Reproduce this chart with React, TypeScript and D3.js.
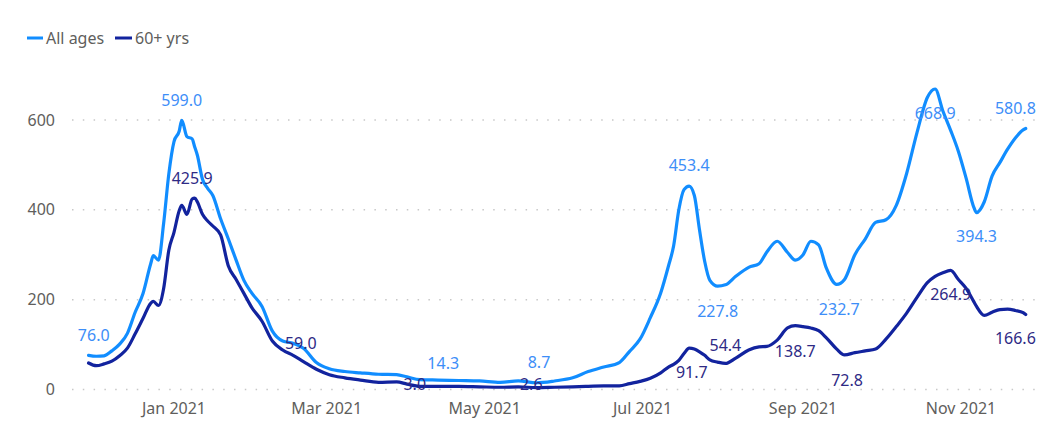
import * as d3 from 'd3'

// daily rate
const dates = [
  '2020-11-29', '2020-12-02', '2020-12-05', '2020-12-08', '2020-12-11', '2020-12-14', '2020-12-17',
  '2020-12-20', '2020-12-23', '2020-12-24', '2020-12-26', '2020-12-28', '2020-12-30', '2021-01-01',
  '2021-01-03', '2021-01-04', '2021-01-06', '2021-01-08', '2021-01-09', '2021-01-10', '2021-01-12',
  '2021-01-14', '2021-01-16', '2021-01-19', '2021-01-22', '2021-01-25', '2021-01-28', '2021-01-31',
  '2021-02-04', '2021-02-08', '2021-02-12', '2021-02-16', '2021-02-20', '2021-02-25', '2021-03-02',
  '2021-03-08', '2021-03-14', '2021-03-21', '2021-03-28', '2021-04-01', '2021-04-06', '2021-04-13',
  '2021-04-21', '2021-04-29', '2021-05-07', '2021-05-14', '2021-05-21', '2021-05-28', '2021-06-04',
  '2021-06-10', '2021-06-16', '2021-06-22', '2021-06-26', '2021-06-30', '2021-07-04', '2021-07-08',
  '2021-07-11', '2021-07-13', '2021-07-15', '2021-07-17', '2021-07-19', '2021-07-21', '2021-07-23',
  '2021-07-25', '2021-07-27', '2021-07-30', '2021-08-02', '2021-08-06', '2021-08-11', '2021-08-15',
  '2021-08-18', '2021-08-22', '2021-08-26', '2021-08-29', '2021-09-01', '2021-09-04', '2021-09-07',
  '2021-09-10', '2021-09-14', '2021-09-17', '2021-09-21', '2021-09-25', '2021-09-29', '2021-10-03',
  '2021-10-07', '2021-10-11', '2021-10-15', '2021-10-19', '2021-10-22', '2021-10-25', '2021-10-28',
  '2021-10-31', '2021-11-03', '2021-11-06', '2021-11-07', '2021-11-10', '2021-11-13', '2021-11-16',
  '2021-11-19', '2021-11-22', '2021-11-25', '2021-11-26',
]

const allAges = [
  76, 74, 75, 86, 101, 125, 172,
  213, 280, 298, 288, 370, 480, 552,
  575, 599, 563, 558, 540, 522, 468,
  448, 432, 380, 335, 288, 243, 215,
  185, 130, 108, 103, 92, 60, 46,
  40, 37, 34, 33, 28, 22, 21,
  20, 19, 16, 19, 15, 19, 26,
  40, 50, 60, 85, 112, 160, 215,
  275, 320, 400, 445, 453, 432, 355,
  285, 243, 230, 233, 252, 272, 280,
  306, 330, 305, 288, 300, 330, 322,
  270, 234, 245, 300, 335, 372, 378,
  410, 481, 572, 650, 669, 620, 577,
  530, 470, 405, 394, 418, 475, 505,
  535, 560, 578, 581,
]

const over60 = [
  59, 53, 57, 63, 75, 92, 124,
  158, 192, 196, 187, 225, 310, 350,
  398, 410, 390, 424, 426, 418, 390,
  375, 364, 344, 275, 245, 214, 183,
  152, 108, 88, 76, 62, 45, 33,
  26, 21, 16, 17, 12, 7, 7,
  7, 6, 5, 6, 4, 5, 6,
  7, 8, 8, 13, 18, 25, 37,
  50, 56, 65, 80, 92, 90, 84,
  76, 66, 61, 58, 70, 88, 95,
  96, 110, 137, 142, 140, 137, 131,
  115, 90, 77, 82, 86, 90, 112,
  140, 170, 205, 238, 252, 260, 265,
  245, 225, 195, 185, 165, 172, 178,
  179, 176, 171, 167,
]

const seriesNames = ['All ages', '60+ yrs']
const yTicks = [0, 200, 400, 600]
const monthTicks = ['2021-01-01', '2021-03-01', '2021-05-01', '2021-07-01', '2021-09-01', '2021-11-01']

// data labels shown on the chart
const labelDates = [
  '2020-12-01', '2021-01-04', '2021-01-08', '2021-02-19', '2021-04-15', '2021-04-04', '2021-05-22',
  '2021-05-19', '2021-07-19', '2021-07-30', '2021-07-20', '2021-08-02', '2021-08-29', '2021-09-15',
  '2021-09-18', '2021-10-28', '2021-11-07', '2021-10-22', '2021-11-22', '2021-11-22',
]
const labelValues = [
  76.0, 599.0, 425.9, 59.0, 14.3, 3.0, 8.7,
  2.6, 453.4, 227.8, 91.7, 54.4, 138.7, 232.7,
  72.8, 264.9, 394.3, 668.9, 580.8, 166.6,
]
const labelSeries = [0, 0, 1, 1, 0, 1, 0, 1, 0, 0, 1, 1, 1, 0, 1, 1, 0, 0, 0, 1]

const W = 1051
const H = 426
const colors = ['#118DFF', '#12239E']
const labelColors = ['#3d8ef8', '#2e2a85']
const font = "'Noto Sans', 'DejaVu Sans', sans-serif"

export default function App() {
  const parse = d3.timeParse('%Y-%m-%d')
  const x = d3
    .scaleTime()
    .domain([parse('2021-01-01'), parse('2021-11-01')])
    .range([174, 961])
  const y = d3.scaleLinear().domain([0, 600]).range([389.5, 120])

  const series = [allAges, over60].map((vals) =>
    dates.map((d, i) => ({ date: parse(d), value: vals[i] }))
  )
  const line = d3
    .line()
    .x((d) => x(d.date))
    .y((d) => y(d.value))
    .curve(d3.curveMonotoneX)

  // where each label sits relative to its point
  const placement = [
    'above', 'above', 'above', 'above', 'above', 'on', 'high',
    'on', 'above', 'below', 'below', 'above', 'below', 'below',
    'below', 'below', 'below', 'below', 'above', 'below',
  ]
  const offset = { above: -20, high: -23, below: 24, on: -4 }
  const fmtMonth = d3.timeFormat('%b %Y')

  return (
    <svg
      width={W}
      height={H}
      style={{ position: 'absolute', left: 0, top: 0, background: '#fff' }}
      fontFamily={font}
    >
      {/* legend */}
      <g>
        <line x1={27} x2={43} y1={38} y2={38} stroke={colors[0]} strokeWidth={3} />
        <text x={46} y={38} dy="0.35em" fontSize={16} fill="#605E5C">{seriesNames[0]}</text>
        <line x1={115} x2={132} y1={38} y2={38} stroke={colors[1]} strokeWidth={3} />
        <text x={135} y={38} dy="0.35em" fontSize={16} fill="#605E5C">{seriesNames[1]}</text>
      </g>

      {/* y grid + labels */}
      {yTicks.map((t) => (
        <g key={t}>
          <line
            x1={72}
            x2={1038}
            y1={y(t)}
            y2={y(t)}
            stroke="#c8c8c8"
            strokeWidth={1.5}
            strokeDasharray="1.5,9.3"
          />
          <text x={55} y={y(t)} dy="0.35em" textAnchor="end" fontSize={16} fill="#605E5C">
            {t}
          </text>
        </g>
      ))}

      {/* x labels */}
      {monthTicks.map((m) => (
        <text key={m} x={x(parse(m))} y={408} dy="0.35em" textAnchor="middle" fontSize={16} fill="#605E5C">
          {fmtMonth(parse(m))}
        </text>
      ))}

      {series.map((s, i) => (
        <path
          key={i}
          d={line(s)}
          fill="none"
          stroke={colors[i]}
          strokeWidth={3.2}
          strokeLinejoin="round"
          strokeLinecap="round"
        />
      ))}

      {labelDates.map((d, i) => (
        <text
          key={i}
          x={x(parse(d))}
          y={y(labelValues[i]) + offset[placement[i]]}
          dy="0.35em"
          textAnchor="middle"
          fontSize={16}
          fill={labelColors[labelSeries[i]]}
        >
          {labelValues[i].toFixed(1)}
        </text>
      ))}
    </svg>
  )
}
